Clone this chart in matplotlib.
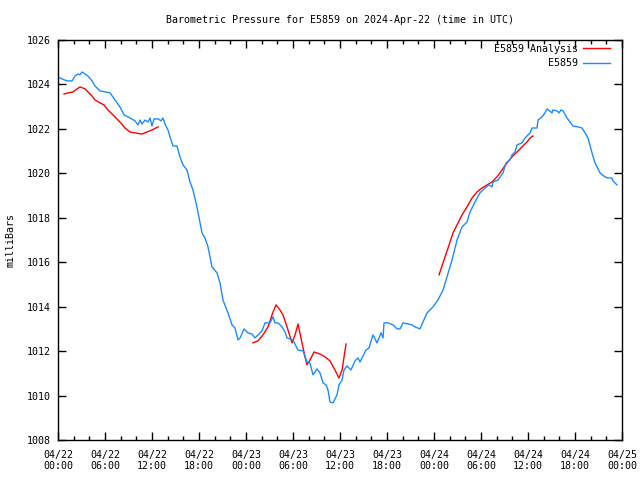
import numpy as np
import matplotlib
matplotlib.use("Agg")
import matplotlib.pyplot as plt
from matplotlib.ticker import MultipleLocator

# hours since 2024-04-22 00:00 UTC, pressure in mbar
obs_hours = [0, 0.51, 1.15, 1.79, 2.17, 2.55, 2.81, 3.06, 3.45, 3.83, 4.34, 4.72,
             5.36, 6.13, 6.64, 7.28, 7.91, 8.43, 9.19, 9.83, 10.21, 10.47, 10.72,
             11.11, 11.49, 11.74, 12.00, 12.26, 12.77, 13.15, 13.40, 13.66, 14.04,
             14.30, 14.68, 15.19, 15.57, 15.96, 16.47, 16.85, 17.23, 17.74, 18.13,
             18.38, 18.77, 19.15, 19.66, 20.30, 20.68, 21.06, 21.70, 22.21, 22.60,
             22.98, 23.24, 23.75, 24.26, 24.77, 25.15, 25.53, 26.04, 26.43, 27.06,
             27.45, 27.70, 28.09, 28.60, 28.98, 29.24, 29.62, 30.00, 30.64, 31.28,
             31.79, 32.17, 32.55, 33.06, 33.45, 33.83, 34.21, 34.47, 34.72, 35.11,
             35.62, 35.87, 36.26, 36.51, 36.89, 37.40, 37.92, 38.30, 38.55, 39.32,
             39.70, 40.21, 40.72, 41.24, 41.49, 41.62, 42.13, 42.77, 43.28, 43.66,
             44.04, 44.68, 45.19, 45.58, 46.21, 47.11, 47.87, 48.51, 49.15, 49.66,
             50.30, 50.94, 51.58, 52.21, 52.60, 53.23, 53.87, 54.51, 55.02, 55.40,
             55.53, 56.17, 56.81, 57.19, 57.70, 57.96, 58.34, 58.60, 59.23, 59.62,
             60.26, 60.51, 61.15, 61.28, 61.79, 62.17, 62.43, 63.07, 63.19, 63.70,
             63.96, 64.21, 64.47, 64.98, 65.36, 65.74, 66.38, 66.89, 67.28, 67.66,
             68.17, 68.55, 69.19, 69.83, 70.21, 70.72, 70.85, 71.36]
obs_press = [1024.33, 1024.25, 1024.16, 1024.16, 1024.38, 1024.47, 1024.43, 1024.56,
             1024.47, 1024.38, 1024.16, 1023.93, 1023.71, 1023.66, 1023.62, 1023.30,
             1022.99, 1022.63, 1022.49, 1022.36, 1022.18, 1022.40, 1022.22, 1022.40,
             1022.31, 1022.49, 1022.13, 1022.45, 1022.45, 1022.36, 1022.49, 1022.22,
             1021.95, 1021.64, 1021.23, 1021.23, 1020.74, 1020.38, 1020.15, 1019.61,
             1019.25, 1018.49, 1017.77, 1017.32, 1017.09, 1016.69, 1015.79, 1015.52,
             1015.07, 1014.30, 1013.72, 1013.18, 1013.04, 1012.50, 1012.59, 1013.00,
             1012.82, 1012.77, 1012.59, 1012.73, 1012.91, 1013.27, 1013.27, 1013.54,
             1013.27, 1013.27, 1013.09, 1012.86, 1012.59, 1012.55, 1012.50, 1012.05,
             1012.01, 1011.51, 1011.47, 1010.93, 1011.20, 1011.02, 1010.57, 1010.48,
             1010.25, 1009.71, 1009.67, 1010.03, 1010.48, 1010.70, 1011.15, 1011.33,
             1011.15, 1011.56, 1011.69, 1011.51, 1012.05, 1012.14, 1012.73, 1012.37,
             1012.82, 1012.59, 1013.27, 1013.27, 1013.18, 1013.00, 1013.00, 1013.27,
             1013.22, 1013.18, 1013.09, 1013.00, 1013.72, 1013.99, 1014.30, 1014.75,
             1015.34, 1016.10, 1017.00, 1017.59, 1017.81, 1018.26, 1018.71, 1019.12,
             1019.34, 1019.48, 1019.39, 1019.61, 1019.70, 1020.02, 1020.47, 1020.60,
             1020.83, 1020.96, 1021.28, 1021.37, 1021.59, 1021.82, 1022.04, 1022.04,
             1022.40, 1022.54, 1022.72, 1022.90, 1022.72, 1022.85, 1022.81, 1022.72,
             1022.85, 1022.81, 1022.49, 1022.31, 1022.13, 1022.09, 1022.04, 1021.82,
             1021.59, 1020.92, 1020.47, 1020.02, 1019.84, 1019.79, 1019.79, 1019.66,
             1019.48]

# analysis runs (NaN separates the three pieces)
ana_hours = [0.77, 1.28, 1.91, 2.43, 2.81, 3.45, 3.83, 4.34, 4.72, 5.36, 5.87, 6.38,
             7.02, 7.91, 8.55, 9.19, 9.83, 10.72, 11.36, 12.00, 12.77, np.nan,
             24.89, 25.53, 26.17, 26.81, 27.45, 27.83, 28.34, 28.72, 29.24, 29.87,
             30.26, 30.64, 31.15, 31.53, 31.79, 32.17, 32.68, 33.45, 34.09, 34.72,
             35.36, 35.87, 36.26, 36.77, np.nan,
             48.64, 49.15, 49.79, 50.43, 50.94, 51.58, 52.21, 52.85, 53.49, 54.13,
             54.77, 55.40, 56.04, 56.68, 57.32, 57.96, 58.60, 59.23, 59.87, 60.26,
             60.64]
ana_press = [1023.57, 1023.62, 1023.66, 1023.80, 1023.89, 1023.80, 1023.66, 1023.48,
             1023.30, 1023.17, 1023.08, 1022.85, 1022.63, 1022.31, 1022.04, 1021.86,
             1021.82, 1021.77, 1021.86, 1021.95, 1022.09, np.nan,
             1012.37, 1012.46, 1012.73, 1013.09, 1013.76, 1014.08, 1013.85, 1013.63,
             1013.09, 1012.37, 1012.73, 1013.22, 1012.37, 1011.74, 1011.38, 1011.60,
             1011.96, 1011.87, 1011.74, 1011.56, 1011.15, 1010.79, 1011.15, 1012.32,
             np.nan,
             1015.43, 1015.97, 1016.64, 1017.32, 1017.68, 1018.13, 1018.49, 1018.89,
             1019.16, 1019.34, 1019.48, 1019.61, 1019.84, 1020.15, 1020.47, 1020.74,
             1020.96, 1021.19, 1021.41, 1021.59, 1021.68]

tick_hours = list(range(0, 73, 6))
tick_labels = ["04/22\n00:00", "04/22\n06:00", "04/22\n12:00", "04/22\n18:00",
               "04/23\n00:00", "04/23\n06:00", "04/23\n12:00", "04/23\n18:00",
               "04/24\n00:00", "04/24\n06:00", "04/24\n12:00", "04/24\n18:00",
               "04/25\n00:00"]

plt.rcParams['font.family'] = ['DejaVu Sans Mono']
plt.rcParams['font.size'] = 7.2

fig = plt.figure(figsize=(6.4, 4.8), dpi=100)
ax = fig.add_axes([58/640, 40/480, 564/640, 400/480])

ax.plot(ana_hours, ana_press, color='#ff0000', lw=1.0, label='E5859 Analysis')
ax.plot(obs_hours, obs_press, color='#1a8cff', lw=1.0, label='E5859')

ax.set_xlim(0, 72)
ax.set_ylim(1008, 1026)
ax.set_xticks(tick_hours)
ax.set_xticklabels(tick_labels)
ax.xaxis.set_minor_locator(MultipleLocator(2))
ax.yaxis.set_major_locator(MultipleLocator(2))
ax.tick_params(which='both', direction='in', top=True, right=True, width=1)
ax.tick_params(which='major', length=6)
ax.tick_params(axis='x', which='major', pad=7)
ax.tick_params(axis='y', which='major', pad=5)
ax.tick_params(which='minor', length=3)
for s in ax.spines.values():
    s.set_linewidth(1)

ax.set_ylabel('milliBars', labelpad=8)
ax.set_title('Barometric Pressure for E5859 on 2024-Apr-22 (time in UTC)',
             pad=12.5, fontsize=7.2)

leg = ax.legend(loc='upper right', bbox_to_anchor=(0.986, 1.0), frameon=False,
                markerfirst=False, alignment='right', handlelength=2.7,
                borderaxespad=0, labelspacing=0.45, handletextpad=0.55)

fig.savefig('out.png', dpi=100)
